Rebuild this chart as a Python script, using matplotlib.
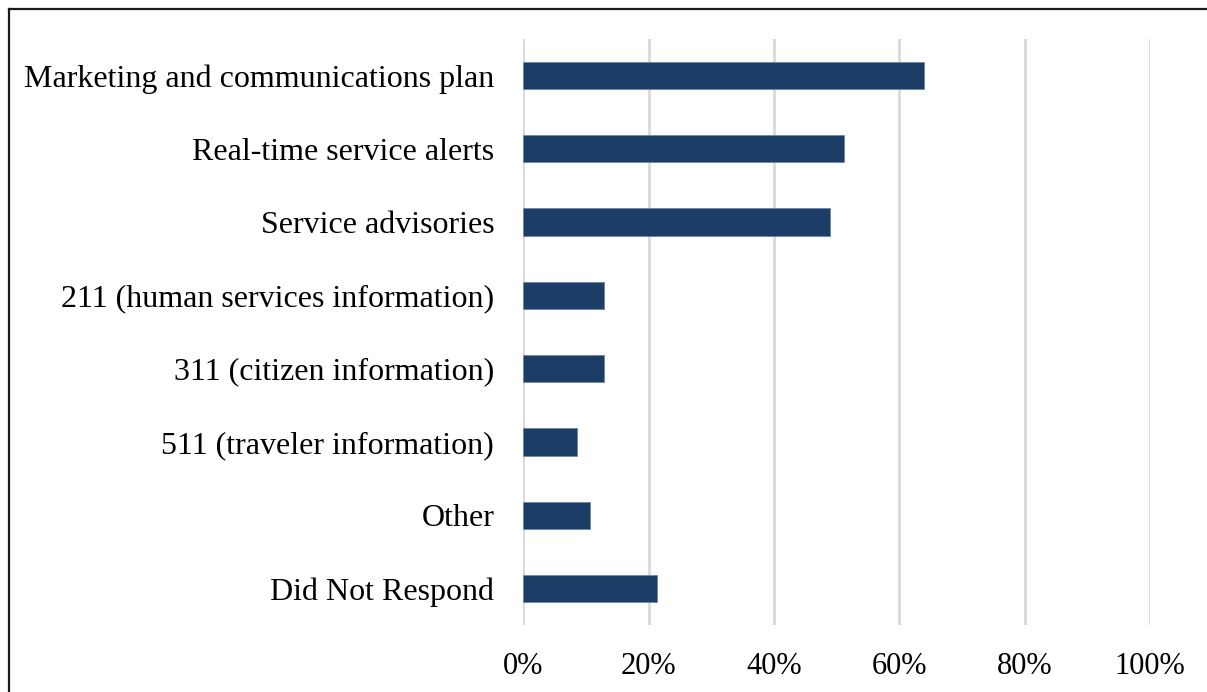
import matplotlib.pyplot as plt
from matplotlib.lines import Line2D
from matplotlib.ticker import FuncFormatter, MultipleLocator

categories = [
    "Marketing and communications plan",
    "Real-time service alerts",
    "Service advisories",
    "211 (human services information)",
    "311 (citizen information)",
    "511 (traveler information)",
    "Other",
    "Did Not Respond",
]
shares = [64.0, 51.2, 49.0, 12.9, 12.9, 8.6, 10.7, 21.4]

plt.rcParams['font.family'] = ['Liberation Serif', 'DejaVu Serif']

W, H = 1207, 692
fig = plt.figure(figsize=(W / 100, H / 100), dpi=100)
ax = fig.add_axes([523.3 / W, 1 - 625.4 / H, (1150 - 523.3) / W, (625.4 - 38.6) / H])

pos = list(range(len(categories)))
ax.barh(pos, [s / 100 for s in shares], height=0.37, color='#1c3d66',
        edgecolor='#6f86a6', linewidth=0.6, zorder=3)

ax.set_xlim(0, 1)
ax.set_ylim(len(categories) - 0.5, -0.5)
ax.set_yticks(pos)
ax.set_yticklabels(categories)
ax.xaxis.set_major_locator(MultipleLocator(0.2))
ax.xaxis.set_major_formatter(FuncFormatter(lambda v, p: f"{v * 100:.0f}%"))
ax.tick_params(axis='both', length=0, colors='black')
ax.tick_params(axis='y', pad=21, labelsize=23)
ax.tick_params(axis='x', pad=19, labelsize=22)

ax.xaxis.grid(True, color='#d9d9d9', linewidth=2, zorder=0)
for s in ax.spines.values():
    s.set_visible(False)

# outer frame: only the left and top edges fall inside the figure
x0, y0 = 9 / W, 1 - 9 / H
fig.add_artist(Line2D([x0, x0], [0, y0], transform=fig.transFigure, color='#1a1a1a', linewidth=1.6))
fig.add_artist(Line2D([x0, 1], [y0, y0], transform=fig.transFigure, color='#1a1a1a', linewidth=1.6))

fig.savefig('out.png', dpi=100)
